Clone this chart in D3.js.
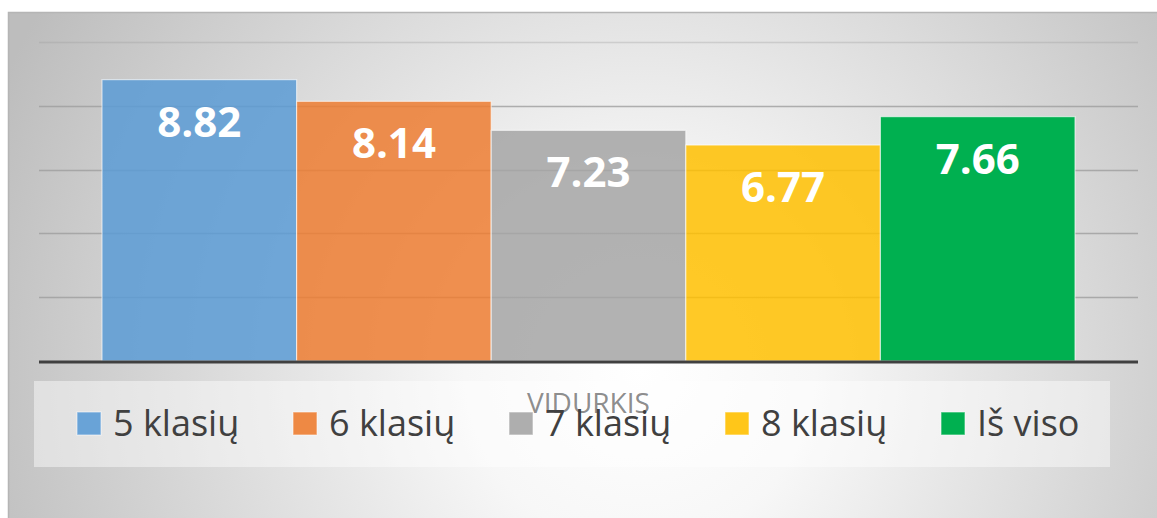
<!DOCTYPE html>
<html>
<head>
<meta charset="utf-8">
<script src="https://cdn.jsdelivr.net/npm/d3@7"></script>
<style>
  body { margin: 0; background: #fff; }
  svg { display: block; }
</style>
</head>
<body>
<div id="chart"></div>
<script>
// chart data
const seriesNames = ["5 klasių", "6 klasių", "7 klasių", "8 klasių", "Iš viso"];
const seriesValues = [8.82, 8.14, 7.23, 6.77, 7.66];
const seriesColors = ["#5b9bd5", "#ed7d31", "#a5a5a5", "#ffc000", "#00b050"];
const yTicks = [0, 2, 4, 6, 8, 10];
const categoryLabel = "VIDURKIS";

const width = 1157, height = 518;

const svg = d3.select("#chart").append("svg")
    .attr("width", width)
    .attr("height", height);

// background gradient (light centre, grey edges)
const defs = svg.append("defs");
const grad = defs.append("radialGradient")
    .attr("id", "bg")
    .attr("gradientUnits", "userSpaceOnUse")
    .attr("cx", 640).attr("cy", 370).attr("r", 700);
grad.append("stop").attr("offset", "0%").attr("stop-color", "#ffffff");
grad.append("stop").attr("offset", "25%").attr("stop-color", "#f7f7f7");
grad.append("stop").attr("offset", "100%").attr("stop-color", "#bdbdbd");

svg.append("rect")
    .attr("x", 8).attr("y", 12)
    .attr("width", width - 8).attr("height", height - 12)
    .attr("fill", "url(#bg)");
svg.append("path")
    .attr("d", `M8.5,${height}V12.5H${width}`)
    .attr("fill", "none")
    .attr("stroke", "#b5b5b5")
    .attr("stroke-width", 1.5);

// scales
const plotLeft = 39, plotRight = 1138;
const y = d3.scaleLinear().domain([0, 10]).range([361, 42]);
const x = d3.scaleBand().domain(seriesNames).range([102, 1075]).padding(0);
const color = d3.scaleOrdinal().domain(seriesNames).range(seriesColors);

// gridlines
svg.append("g")
    .selectAll("line")
    .data(yTicks.filter(d => d > 0))
    .enter().append("line")
    .attr("x1", plotLeft).attr("x2", plotRight)
    .attr("y1", d => Math.round(y(d)) + 0.5)
    .attr("y2", d => Math.round(y(d)) + 0.5)
    .attr("stroke", "#9e9e9e")
    .attr("stroke-opacity", d => d === 10 ? 0.35 : 0.8)
    .attr("stroke-width", 1.5);

// bars
svg.append("g")
    .selectAll("rect")
    .data(seriesNames)
    .enter().append("rect")
    .attr("x", d => x(d))
    .attr("y", (d, i) => y(seriesValues[i]))
    .attr("width", x.bandwidth())
    .attr("height", (d, i) => y(0) - y(seriesValues[i]))
    .attr("fill", d => color(d))
    .attr("fill-opacity", (d, i) => i === 4 ? 1 : 0.85)
    .attr("stroke", "#ffffff")
    .attr("stroke-opacity", 0.6)
    .attr("stroke-width", 1.2);

// value labels
svg.append("g")
    .selectAll("text")
    .data(seriesNames)
    .enter().append("text")
    .attr("x", d => x(d) + x.bandwidth() / 2)
    .attr("y", (d, i) => y(seriesValues[i]) + 57)
    .attr("text-anchor", "middle")
    .attr("font-family", "'Open Sans', sans-serif")
    .attr("font-weight", "bold")
    .attr("font-size", 42)
    .attr("fill", "#ffffff")
    .text((d, i) => seriesValues[i].toFixed(2));

// baseline axis
svg.append("line")
    .attr("x1", plotLeft).attr("x2", plotRight)
    .attr("y1", y(0) + 1).attr("y2", y(0) + 1)
    .attr("stroke", "#404040")
    .attr("stroke-width", 3);

// legend box
svg.append("rect")
    .attr("x", 34).attr("y", 381)
    .attr("width", 1076).attr("height", 86)
    .attr("fill", "#ffffff")
    .attr("fill-opacity", 0.45);

// category label (drawn under legend text)
svg.append("text")
    .attr("x", (plotLeft + plotRight) / 2)
    .attr("y", 413)
    .attr("text-anchor", "middle")
    .attr("font-family", "'Open Sans', sans-serif")
    .attr("font-size", 28)
    .attr("fill", "#7f7f7f")
    .attr("fill-opacity", 0.9)
    .text(categoryLabel);

// legend items
const legendX = d3.scalePoint().domain(seriesNames).range([77, 941]);
const legend = svg.append("g")
    .selectAll("g")
    .data(seriesNames)
    .enter().append("g")
    .attr("transform", d => `translate(${legendX(d)},0)`);

legend.append("rect")
    .attr("x", 0).attr("y", 412)
    .attr("width", 24).attr("height", 23)
    .attr("fill", d => color(d))
    .attr("fill-opacity", (d, i) => i === 4 ? 1 : 0.9)
    .attr("stroke", "#ffffff")
    .attr("stroke-opacity", 0.5)
    .attr("stroke-width", 1.2);

legend.append("text")
    .attr("x", 36).attr("y", 436)
    .attr("font-family", "'Open Sans', sans-serif")
    .attr("font-size", 36)
    .attr("fill", "#404040")
    .text(d => d);
</script>
</body>
</html>
